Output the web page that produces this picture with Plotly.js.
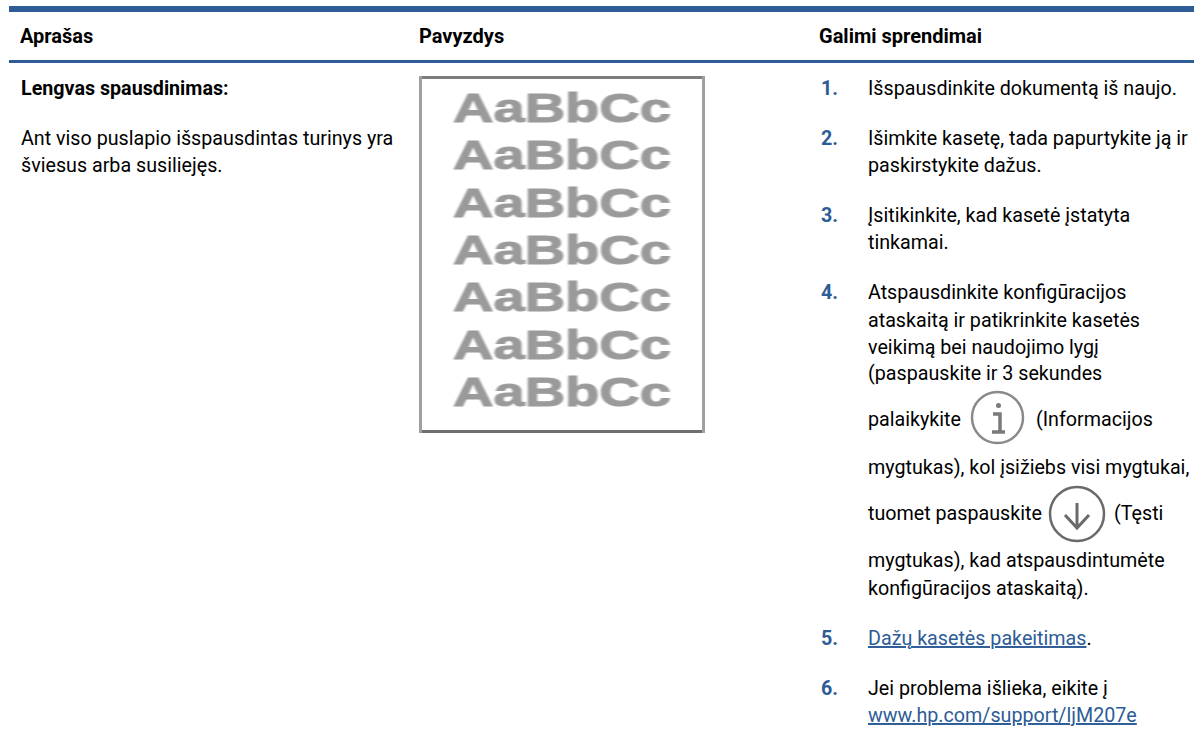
<!DOCTYPE html>
<html><head><meta charset="utf-8">
<script src="https://cdn.plot.ly/plotly-3.0.1.min.js"></script>
<style>html,body{margin:0;padding:0;background:#fff}</style>
</head><body><div id="c" style="width:1194px;height:736px"></div>
<script>
const FONT = 'Roboto';
const BLUE = '#2d5c96';
const TS = 19.7;
const HS = 20;
const headers = ['Aprašas','Pavyzdys','Galimi sprendimai'];
const headerX = [19,418,818];
const headerY = [36,36,36];
const leftLines = ['<b>Lengvas spausdinimas:</b>','Ant viso puslapio išspausdintas turinys yra','šviesus arba susiliejęs.'];
const leftY = [88,138,165];
const sampleText = 'AaBbCc';
const sampleY = [108,155,203,250,297,345,392];
const numLabels = ['1.','2.','3.','4.','5.','6.'];
const numY = [88,138,215,292,638,688];
const stepLines = ['Išspausdinkite dokumentą iš naujo.','Išimkite kasetę, tada papurtykite ją ir','paskirstykite dažus.','Įsitikinkite, kad kasetė įstatyta','tinkamai.','Atspausdinkite konfigūracijos','ataskaitą ir patikrinkite kasetės','veikimą bei naudojimo lygį','(paspauskite ir 3 sekundes','palaikykite','(Informacijos','mygtukas), kol įsižiebs visi mygtukai,','tuomet paspauskite','(Tęsti','mygtukas), kad atspausdintumėte','konfigūracijos ataskaitą).','<span style="color:#2d5c96"><u>Dažų kasetės pakeitimas</u></span>.','Jei problema išlieka, eikite į','<span style="color:#2d5c96"><u>www.hp.com/support/ljM207e</u></span>'];
const stepX = [867,867,867,867,867,867,867,867,867,867,1035,867,867,1113,867,867,867,867,867];
const stepY = [88,138,165,215,242,292,320,347,373,419,419,467,513,513,560,588,638,688,715];

const ann=[];
const txt=(x,y,text,size,color)=>ann.push({xref:'x',yref:'y',x,y,text,showarrow:false,xanchor:'left',yanchor:'middle',align:'left',borderpad:0,font:{family:FONT,size,color}});
headers.forEach((h,i)=>txt(headerX[i],headerY[i],'<b>'+h+'</b>',HS,'#000'));
leftLines.forEach((t,i)=>txt(20,leftY[i],t,TS,'#000'));
numLabels.forEach((t,i)=>txt(820,numY[i],'<b>'+t+'</b>',TS,BLUE));
stepLines.forEach((t,i)=>txt(stepX[i],stepY[i],t,TS,'#000'));
const sampleStart=ann.length;
sampleY.forEach(y=>ann.push({xref:'x',yref:'y',x:451,y,text:'<b>'+sampleText+'</b>',showarrow:false,xanchor:'left',yanchor:'middle',font:{family:'Liberation Sans',size:40,color:'#9a9a9a'}}));

const rect=(x0,y0,x1,y1,fill)=>({type:'rect',xref:'x',yref:'y',x0,y0,x1,y1,fillcolor:fill,line:{width:0},layer:'below'});
const shapes=[
 rect(9,6,1194,12,BLUE), rect(9,60,1194,63,BLUE),
 rect(419,76,705,79,'#7d7d7d'), rect(419,430,705,433,'#6f6f6f'),
 rect(419,76,422,433,'#a0a0a0'), rect(702,76,705,433,'#a0a0a0'),
 {type:'circle',xref:'x',yref:'y',x0:972,y0:392,x1:1023,y1:443,line:{color:'#8a8a8a',width:2.5},fillcolor:'#fff'},
 {type:'circle',xref:'x',yref:'y',x0:1050,y0:487,x1:1104,y1:541,line:{color:'#6a6a6a',width:2.5},fillcolor:'#fff'},
 {type:'path',xref:'x',yref:'y',path:'M1077,503 L1077,528 M1065,515 L1077,528 L1089,515',line:{color:'#6a6a6a',width:3}},
 {type:'path',xref:'x',yref:'y',path:'M993,414 L1000,414 L1000,432 M992,432 L1005,432',line:{color:'#7a7a7a',width:3.5}},
 {type:'circle',xref:'x',yref:'y',x0:996,y0:403,x1:1001,y1:408,line:{width:0},fillcolor:'#7a7a7a'}
];
Plotly.newPlot('c',[],{
 width:1194,height:736,margin:{l:0,r:0,t:0,b:0},paper_bgcolor:'#fff',plot_bgcolor:'#fff',showlegend:false,
 xaxis:{range:[0,1194],visible:false,fixedrange:true},
 yaxis:{range:[736,0],visible:false,fixedrange:true},
 shapes,annotations:ann
},{staticPlot:true,displayModeBar:false}).then(gd=>{
 const els=gd.querySelectorAll('.annotation');
 for(let i=sampleStart;i<els.length;i++){
  const t=els[i].querySelector('text');
  const b=t.getBBox();
  const sx=218/b.width;
  const cx=b.x, cy=b.y+b.height/2;
  t.setAttribute('transform',`translate(${cx} ${cy}) scale(${sx} 1) translate(${-cx} ${-cy}) `+(t.getAttribute('transform')||''));
  t.style.stroke='#9a9a9a';
  t.style.strokeWidth='1px';
  t.style.filter='blur(0.7px)';
 }
 const below=gd.querySelectorAll('.shapelayer path');
 below.forEach((p,i)=>{ if(i>=2&&i<=5) p.style.filter='blur(0.6px)'; });
});
</script></body></html>
